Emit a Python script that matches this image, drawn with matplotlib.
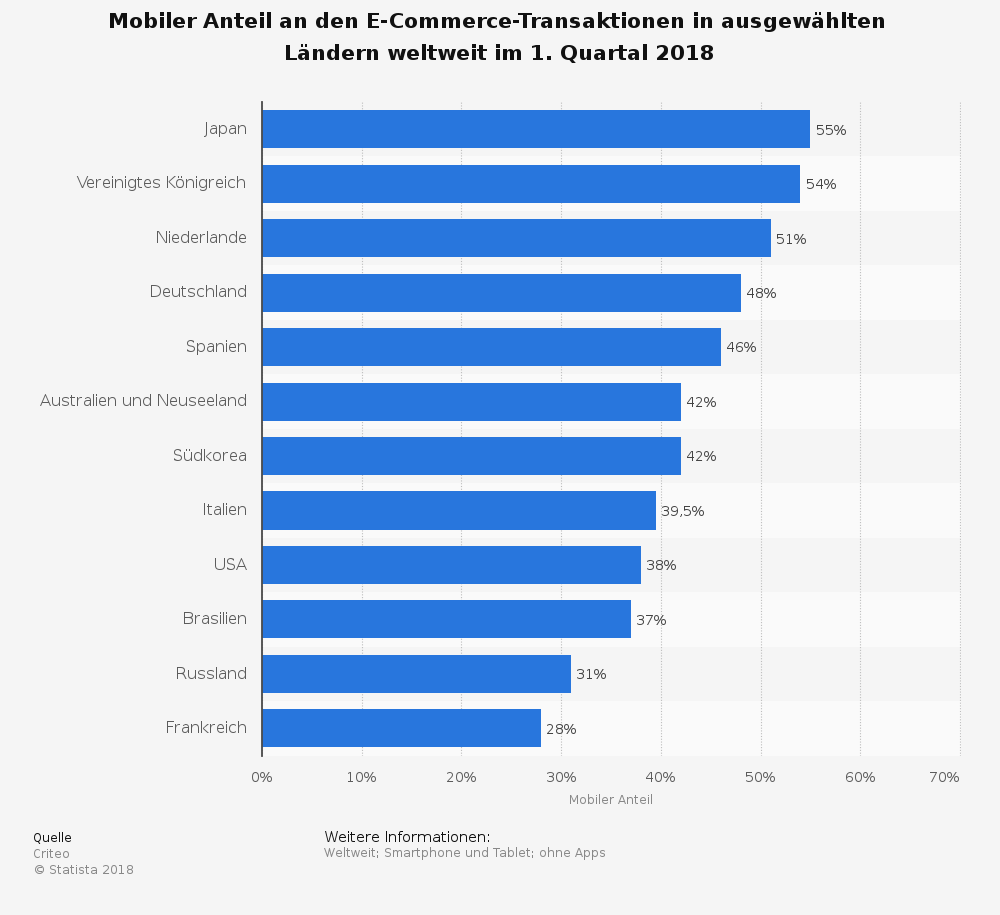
import matplotlib
matplotlib.use("Agg")
import matplotlib.pyplot as plt
from matplotlib.ticker import FuncFormatter
from matplotlib.transforms import ScaledTranslation

countries = ["Japan", "Vereinigtes Königreich", "Niederlande", "Deutschland", "Spanien",
             "Australien und Neuseeland", "Südkorea", "Italien", "USA", "Brasilien",
             "Russland", "Frankreich"]
values = [55, 54, 51, 48, 46, 42, 42, 39.5, 38, 37, 31, 28]
value_labels = ["55%", "54%", "51%", "48%", "46%", "42%", "42%", "39,5%", "38%", "37%", "31%", "28%"]
xticks = [0, 10, 20, 30, 40, 50, 60, 70]

plt.rcParams['font.family'] = 'DejaVu Sans'
plt.rcParams['text.hinting'] = 'native'
plt.rcParams['text.hinting_factor'] = 1
W, H = 1000, 915
fig = plt.figure(figsize=(W/100, H/100), dpi=100, facecolor='#f5f5f5')
L, R, T, B = 262, 961, 102, 755.6
ax = fig.add_axes([L/W, 1-B/H, (R-L)/W, (B-T)/H])
ax.set_facecolor('#f5f5f5')
n = len(countries)
ax.set_xlim(0, 70.1)
ax.set_ylim(n-0.5, -0.5)
for i in range(n):
    if i % 2 == 1:
        ax.axhspan(i-0.5, i+0.5, color='#fafafa', lw=0, zorder=0)
ax.barh(range(n), values, height=0.70, color='#2876dd', zorder=3)
for i, (v, t) in enumerate(zip(values, value_labels)):
    ax.annotate(t, (v, i), xytext=(3.8, -1), textcoords='offset points',
                va='center', ha='left', fontsize=10.4, color='#444444', zorder=4)
ax.set_yticks(range(n))
ax.set_yticklabels(countries, fontsize=11.4, color='#5c5c5c')
ax.set_xticks(xticks)
ax.xaxis.set_major_formatter(FuncFormatter(lambda x, p: f"{int(x)}%"))
ax.tick_params(axis='x', length=0, pad=11, labelsize=10.4, labelcolor='#5c5c5c')
ax.tick_params(axis='y', length=0, pad=11)
ax.grid(axis='x', color='#bdbdbd', linestyle=(0, (1, 1.5)), linewidth=0.8, zorder=1)
ax.set_axisbelow(True)
for s in ['top', 'right', 'bottom']:
    ax.spines[s].set_visible(False)
ax.spines['left'].set_color('#4a4a4a')
ax.spines['left'].set_linewidth(1.3)
ax.spines['left'].set_zorder(5)
for lab in ax.get_yticklabels():
    lab.set_transform(lab.get_transform() + ScaledTranslation(0, 1.0/72, fig.dpi_scale_trans))
ax.get_xticklabels()[-1].set_ha('right')

fig.text(497/W, 1-22/H, "Mobiler Anteil an den E-Commerce-Transaktionen in ausgewählten",
         ha='center', va='center', fontsize=15.3, fontweight='bold', color='#111111')
fig.text(499.5/W, 1-54/H, "Ländern weltweit im 1. Quartal 2018",
         ha='center', va='center', fontsize=15.3, fontweight='bold', color='#111111')
fig.text(611/W, 1-801/H, "Mobiler Anteil", ha='center', va='center', fontsize=8.7, color='#888888')
fig.text(33/W, 1-838/H, "Quelle", ha='left', va='center', fontsize=8.7, color='#111111')
fig.text(33/W, 1-854/H, "Criteo", ha='left', va='center', fontsize=8.4, color='#888888')
fig.text(33/W, 1-870/H, "© Statista 2018", ha='left', va='center', fontsize=8.4, color='#888888')
fig.text(324/W, 1-838/H, "Weitere Informationen:", ha='left', va='center', fontsize=10.9, color='#111111')
fig.text(324/W, 1-854/H, "Weltweit; Smartphone und Tablet; ohne Apps", ha='left', va='center', fontsize=8.4, color='#888888')
fig.savefig("out.png", dpi=100, facecolor=fig.get_facecolor())
